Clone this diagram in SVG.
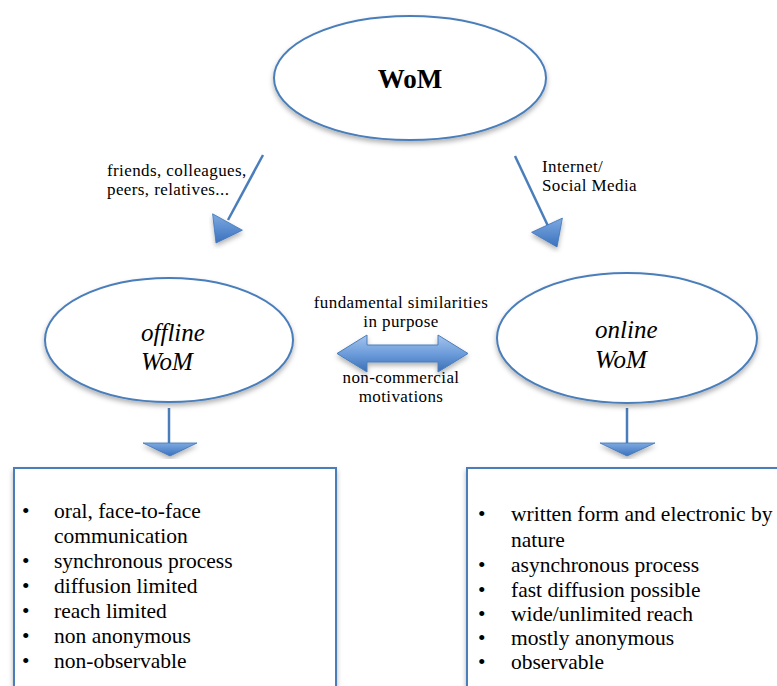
<svg xmlns="http://www.w3.org/2000/svg" width="777" height="686" viewBox="0 0 777 686">
<style>
.node{fill:#ffffff;stroke:#4a7ebb;stroke-width:2}
.t{font-family:"Liberation Serif","Times New Roman",serif;fill:#000}
.lbl{font-size:17px;letter-spacing:0.4px}
.lst{font-size:21.5px}
.it{font-size:25px;font-style:italic}
.conn{stroke:#4a7ebb;stroke-width:2.5;fill:none}
.head{fill:url(#g);stroke:#3f74b6;stroke-width:0.8}
</style>
<defs>
<filter id="sh" x="-10%" y="-10%" width="120%" height="130%">
<feDropShadow dx="0" dy="3" stdDeviation="2.5" flood-color="#000" flood-opacity="0.3"/>
</filter>
<linearGradient id="g" x1="0" y1="0" x2="0" y2="1">
<stop offset="0" stop-color="#7ea9e0"/>
<stop offset="1" stop-color="#3a72bf"/>
</linearGradient>
<linearGradient id="g2" x1="0" y1="0" x2="0" y2="1">
<stop offset="0" stop-color="#a6c4ec"/>
<stop offset="0.5" stop-color="#6d9ddb"/>
<stop offset="1" stop-color="#3b6fb6"/>
</linearGradient>
</defs>
<rect width="777" height="686" fill="#fff"/>

<g id="connectors">
<line class="conn" x1="263" y1="155" x2="228" y2="220"/>
<polygon class="head" filter="url(#sh)" points="212.6,213.8 242.4,230.2 216,243"/>
<line class="conn" x1="515" y1="156" x2="548" y2="226"/>
<polygon class="head" filter="url(#sh)" points="531.6,232.3 562.4,218.1 557,247"/>
<path filter="url(#sh)" fill="url(#g2)" stroke="#4a7ebb" stroke-width="1" d="M337,353.5 L367,335 L367,345 L438,345 L438,335 L468,353.5 L438,372 L438,362 L367,362 L367,372 Z"/>
<line class="conn" x1="169" y1="408" x2="169" y2="444"/>
<polygon class="head" filter="url(#sh)" points="143,443 197,443 170,456"/>
<line class="conn" x1="627" y1="408" x2="627" y2="444"/>
<polygon class="head" filter="url(#sh)" points="600,443 655,443 627,456"/>
</g>

<g id="labels">
<text class="t lbl" x="107" y="176">friends, colleagues,</text>
<text class="t lbl" x="107" y="195">peers, relatives...</text>
<text class="t lbl" x="542" y="172">Internet/</text>
<text class="t lbl" x="542" y="191">Social Media</text>
<text class="t lbl" x="401" y="308" text-anchor="middle">fundamental similarities</text>
<text class="t lbl" x="401" y="327" text-anchor="middle">in purpose</text>
<text class="t lbl" x="401" y="383" text-anchor="middle">non-commercial</text>
<text class="t lbl" x="401" y="402" text-anchor="middle">motivations</text>
</g>

<g id="wom">
<ellipse class="node" filter="url(#sh)" cx="410" cy="78" rx="136" ry="62"/>
<text class="t" x="410" y="88" text-anchor="middle" font-size="27" font-weight="bold">WoM</text>
</g>

<g id="offline">
<ellipse class="node" filter="url(#sh)" cx="169" cy="340" rx="124" ry="62"/>
<text class="t it" x="141" y="341">offline</text>
<text class="t it" x="141" y="370">WoM</text>
</g>

<g id="online">
<ellipse class="node" filter="url(#sh)" cx="627" cy="338" rx="130" ry="65"/>
<text class="t it" x="595" y="338">online</text>
<text class="t it" x="595" y="368">WoM</text>
</g>

<g id="offline-box">
<rect class="node" filter="url(#sh)" x="14" y="468" width="322" height="240"/>
<g class="t lst">
<text x="22" y="518">•</text><text x="54" y="518">oral, face-to-face</text>
<text x="54" y="543">communication</text>
<text x="22" y="568">•</text><text x="54" y="568">synchronous process</text>
<text x="22" y="593">•</text><text x="54" y="593">diffusion limited</text>
<text x="22" y="618">•</text><text x="54" y="618">reach limited</text>
<text x="22" y="643">•</text><text x="54" y="643">non anonymous</text>
<text x="22" y="668">•</text><text x="54" y="668">non-observable</text>
</g>
</g>

<g id="online-box">
<rect class="node" filter="url(#sh)" x="467" y="468" width="330" height="240"/>
<g class="t lst">
<text x="478" y="521">•</text><text x="511" y="521">written form and electronic by</text>
<text x="511" y="547">nature</text>
<text x="478" y="572">•</text><text x="511" y="572">asynchronous process</text>
<text x="478" y="597">•</text><text x="511" y="597">fast diffusion possible</text>
<text x="478" y="621">•</text><text x="511" y="621">wide/unlimited reach</text>
<text x="478" y="645">•</text><text x="511" y="645">mostly anonymous</text>
<text x="478" y="669">•</text><text x="511" y="669">observable</text>
</g>
</g>
</svg>
